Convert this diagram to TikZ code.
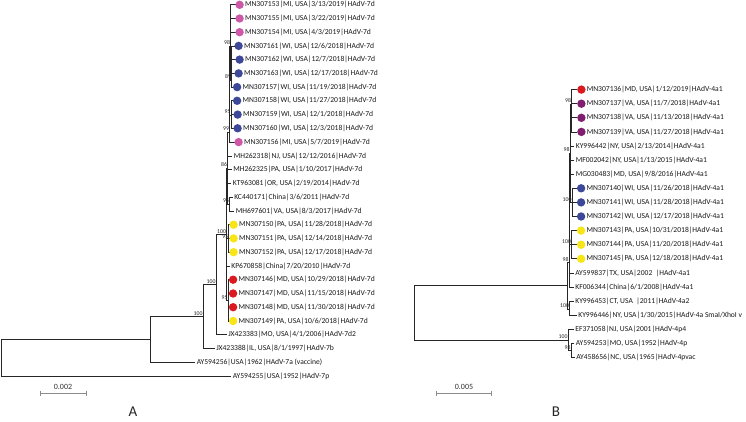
\documentclass[tikz,border=0pt]{standalone}
\usepackage{fontspec}
\setmainfont{Carlito}
\usepackage{xcolor}
\usepackage{tikz}
\usetikzlibrary{positioning, arrows.meta}

\definecolor{magA}{RGB}{206,88,168}
\definecolor{bluA}{RGB}{62,72,152}
\definecolor{yelA}{RGB}{247,229,24}
\definecolor{redA}{RGB}{218,26,32}
\definecolor{purB}{RGB}{128,30,112}

\tikzset{
  branch/.style={draw=black!85, line width=0.75pt},
  leaf/.style={anchor=west, inner sep=0pt, text=black!90, font=\fontsize{7.6}{8}\selectfont},
  dot/.style={circle, draw=none, inner sep=0pt, minimum size=8.4pt},
  boot/.style={anchor=south east, inner sep=0pt, xshift=-0.3pt, yshift=0.8pt, text=black!85, font=\fontsize{5.8}{6}\selectfont},
  scalebar/.style={draw=black!45, line width=0.6pt, {Bar[width=5pt]}-{Bar[width=5pt]}},
  scalelab/.style={inner sep=0pt, text=black!80, font=\fontsize{8}{9}\selectfont},
  panel/.style={inner sep=0pt, text=black!85, font=\fontsize{15}{17}\selectfont}
}

\begin{document}
\begin{tikzpicture}[x=1pt, y=-1pt]
  \useasboundingbox[fill=white] (0,0) rectangle (746,422);

  % Tree A: internal nodes
  \coordinate (ra) at (1,357.5);
  \coordinate (na1) at (150,339);
  \coordinate (na2) at (203,316.2);
  \coordinate (na3) at (216,284.6);
  \coordinate (na4) at (226.5,234.5);
  \coordinate (n86) at (227.5,168);
  \coordinate (ny) at (228.8,238.4);
  \coordinate (nrc) at (228,300.4);
  \coordinate (n99) at (229.5,132);
  \coordinate (n95c) at (229.5,204);
  \coordinate (n98) at (230.5,46);
  \coordinate (n95a) at (231,115);
  \coordinate (n89) at (231.5,80);

  \foreach \p/\c in {ra/na1, na1/na2, na2/na3, na3/na4, na4/n86, na4/ny, na4/nrc,
                     n86/n99, n86/n95c, n99/n98, n99/n95a, n98/n89}
    \draw[branch] (\p) |- (\c);

  % Tree A: leaves with a dot
  \foreach \n/\p/\x/\y/\c/\t in {
      a1/n98/235.5/4.8/magA/{MN307153|MI, USA|3/13/2019|HAdV-7d},
      a2/n98/235.5/18.5/magA/{MN307155|MI, USA|3/22/2019|HAdV-7d},
      a3/n98/235.5/32.2/magA/{MN307154|MI, USA|4/3/2019|HAdV-7d},
      a4/n89/234.5/45.9/bluA/{MN307161|WI, USA|12/6/2018|HAdV-7d},
      a5/n89/235.5/59.6/bluA/{MN307162|WI, USA|12/7/2018|HAdV-7d},
      a6/n89/234.5/73.4/bluA/{MN307163|WI, USA|12/17/2018|HAdV-7d},
      a7/n89/233/87.1/bluA/{MN307157|WI, USA|11/19/2018|HAdV-7d},
      a8/n95a/233/100.8/bluA/{MN307158|WI, USA|11/27/2018|HAdV-7d},
      a9/n95a/233.5/114.6/bluA/{MN307159|WI, USA|12/1/2018|HAdV-7d},
      a10/n95a/233.5/128.3/bluA/{MN307160|WI, USA|12/3/2018|HAdV-7d},
      a11/n99/234.5/142.1/magA/{MN307156|MI, USA|5/7/2019|HAdV-7d},
      a17/ny/229.5/224.7/yelA/{MN307150|PA, USA|11/28/2018|HAdV-7d},
      a18/ny/229.5/238.4/yelA/{MN307151|PA, USA|12/14/2018|HAdV-7d},
      a19/ny/229.5/252.2/yelA/{MN307152|PA, USA|12/17/2018|HAdV-7d},
      a21/nrc/229/279.7/redA/{MN307146|MD, USA|10/29/2018|HAdV-7d},
      a22/nrc/229/293.5/redA/{MN307147|MD, USA|11/15/2018|HAdV-7d},
      a23/nrc/229/307.2/redA/{MN307148|MD, USA|11/30/2018|HAdV-7d},
      a24/nrc/229/321.0/yelA/{MN307149|PA, USA|10/6/2018|HAdV-7d}} {
    \coordinate (\n) at (\x,\y);
    \draw[branch] (\p) |- (\n);
    \node[dot, fill=\c] (d\n) at ([xshift=4.1pt]\n) {};
    \node[leaf] (t\n) at ([xshift=9.3pt]\n) {\t};
  }

  % Tree A: plain leaves
  \foreach \n/\p/\x/\y/\t in {
      a12/n86/232/155.9/{MH262318|NJ, USA|12/12/2016|HAdV-7d},
      a13/n86/231.5/169.6/{MH262325|PA, USA|1/10/2017|HAdV-7d},
      a14/n86/231/183.4/{KT963081|OR, USA|2/19/2014|HAdV-7d},
      a15/n95c/232.5/197.1/{KC440171|China|3/6/2011|HAdV-7d},
      a16/n95c/234/210.9/{MH697601|VA, USA|8/3/2017|HAdV-7d},
      a20/na4/229.5/265.9/{KP670858|China|7/20/2010|HAdV-7d},
      a25/na3/226.5/334.7/{JX423383|MO, USA|4/1/2006|HAdV-7d2},
      a26/na2/214.5/348.5/{JX423388|IL, USA|8/1/1997|HAdV-7b},
      a27/na1/195/362.3/{AY594256|USA|1962|HAdV-7a (vaccine)},
      a28/ra/231/376.0/{AY594255|USA|1952|HAdV-7p}} {
    \coordinate (\n) at (\x,\y);
    \draw[branch] (\p) |- (\n);
    \node[leaf] (t\n) at ([xshift=1.6pt]\n) {\t};
  }

  \foreach \n/\v in {na2/100, na3/100, na4/100, n86/86, nrc/95,
                     n99/99, n95c/95, n98/98, n95a/95, n89/89}
    \node[boot] (l\n) at (\n) {\v};
  \node[boot, yshift=-0.9pt] (lny) at (ny) {95};

  % Tree B: internal nodes
  \coordinate (rb) at (414,312.5);
  \coordinate (ntb) at (567,285);
  \coordinate (nbot) at (568,340);
  \coordinate (nr) at (569,262.5);
  \coordinate (nky) at (569.5,309);
  \coordinate (nq) at (570,153);
  \coordinate (nyb) at (571.5,244.7);
  \coordinate (np) at (571.5,104);
  \coordinate (nblu) at (572,202.4);
  \coordinate (nbot2) at (571,350.5);

  \foreach \p/\c in {rb/ntb, rb/nbot, ntb/nr, ntb/nky, nr/nq, nr/nyb,
                     nq/np, nq/nblu, nbot/nbot2}
    \draw[branch] (\p) |- (\c);

  % Tree B: leaves with a dot
  \foreach \n/\p/\x/\y/\c/\t in {
      b1/np/577.3/89.6/redA/{MN307136|MD, USA|1/12/2019|HAdV-4a1},
      b2/np/577.3/103.7/purB/{MN307137|VA, USA|11/7/2018|HAdV-4a1},
      b3/np/577.3/117.8/purB/{MN307138|VA, USA|11/13/2018|HAdV-4a1},
      b4/np/577.3/131.9/purB/{MN307139|VA, USA|11/27/2018|HAdV-4a1},
      b8/nblu/577/188.3/bluA/{MN307140|WI, USA|11/26/2018|HAdV-4a1},
      b9/nblu/577/202.4/bluA/{MN307141|WI, USA|11/28/2018|HAdV-4a1},
      b10/nblu/577/216.5/bluA/{MN307142|WI, USA|12/17/2018|HAdV-4a1},
      b11/nyb/577/230.6/yelA/{MN307143|PA, USA|10/31/2018|HAdV-4a1},
      b12/nyb/577/244.7/yelA/{MN307144|PA, USA|11/20/2018|HAdV-4a1},
      b13/nyb/577/258.8/yelA/{MN307145|PA, USA|12/18/2018|HAdV-4a1}} {
    \coordinate (\n) at (\x,\y);
    \draw[branch] (\p) |- (\n);
    \node[dot, fill=\c] (d\n) at ([xshift=4.1pt]\n) {};
    \node[leaf] (t\n) at ([xshift=9.3pt]\n) {\t};
  }

  % Tree B: plain leaves
  \foreach \n/\p/\x/\y/\t in {
      b5/nq/574/146.0/{KY996442|NY, USA|2/13/2014|HAdV-4a1},
      b6/nq/574/160.1/{MF002042|NY, USA|1/13/2015|HAdV-4a1},
      b7/nq/574/174.2/{MG030483|MD, USA|9/8/2016|HAdV-4a1},
      b14/nr/573.5/272.9/{AY599837|TX, USA|2002 \ |HAdV-4a1},
      b15/nr/573.5/287.0/{KF006344|China|6/1/2008|HAdV-4a1},
      b16/nky/573.5/301.1/{KY996453|CT, USA \ |2011|HAdV-4a2},
      b17/nky/576.5/315.2/{KY996446|NY, USA|1/30/2015|HAdV-4a SmaI/XhoI v},
      b18/nbot/573.5/329.3/{EF371058|NJ, USA|2001|HAdV-4p4},
      b19/nbot2/574/343.4/{AY594253|MO, USA|1952|HAdV-4p},
      b20/nbot2/574.5/357.5/{AY458656|NC, USA|1965|HAdV-4pvac}} {
    \coordinate (\n) at (\x,\y);
    \draw[branch] (\p) |- (\n);
    \node[leaf] (t\n) at ([xshift=1.6pt]\n) {\t};
  }

  \foreach \n/\v in {nbot/100, nr/98, nky/100, nq/98, nyb/100, np/98,
                     nblu/100, nbot2/98}
    \node[boot] (l\n) at (\n) {\v};

  % Scale bars and panel letters
  \coordinate (sa1) at (39.5,393);
  \coordinate (sa2) at (86.5,393);
  \draw[scalebar] (sa1) -- (sa2);
  \node[scalelab] (lsa) at (63,387) {0.002};
  \coordinate (sb1) at (436,393);
  \coordinate (sb2) at (492,393);
  \draw[scalebar] (sb1) -- (sb2);
  \node[scalelab] (lsb) at (464,387) {0.005};

  \node[panel] (pa) at (133,412) {A};
  \node[panel] (pb) at (556,412) {B};
\end{tikzpicture}
\end{document}
